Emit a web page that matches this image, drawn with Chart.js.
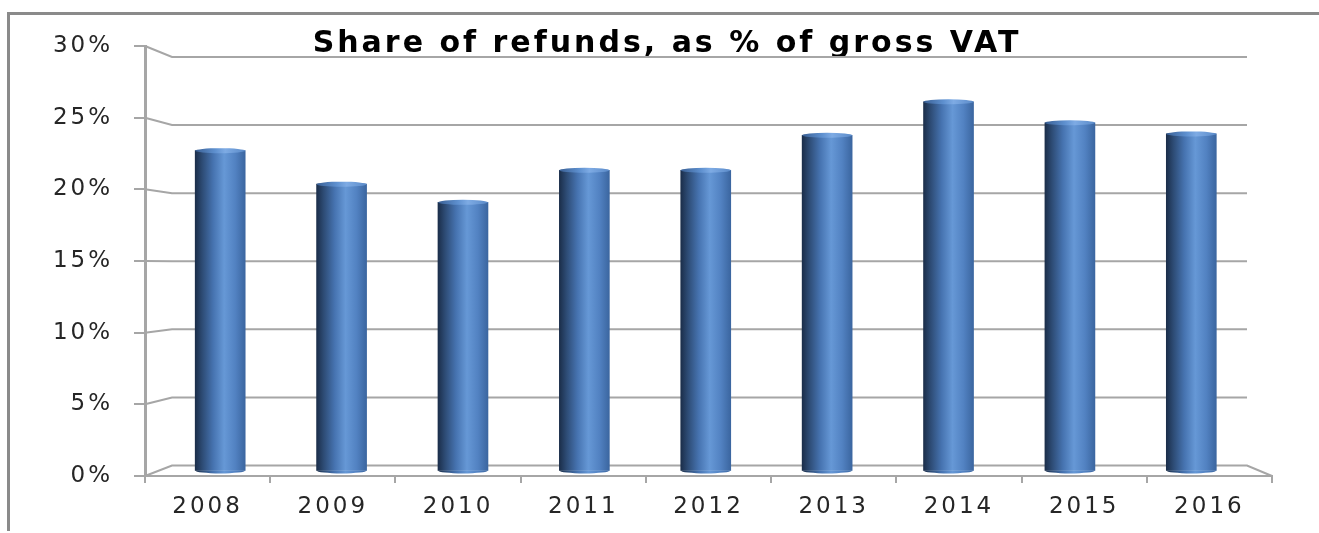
<!DOCTYPE html>
<html lang="en">
<head>
<meta charset="UTF-8" />
<title>Share of refunds, as % of gross VAT</title>
<script src="https://cdn.jsdelivr.net/npm/chart.js"></script>
<style>
  body { margin: 0; background: #fff; }
  #wrap { position: relative; width: 1319px; height: 533px; }
</style>
</head>
<body>
<div id="wrap"><canvas id="vatChart"></canvas></div>
<script>
  // data (percent of gross VAT)
  const years = ['2008', '2009', '2010', '2011', '2012', '2013', '2014', '2015', '2016'];
  const refundShare = [22.9, 20.5, 19.2, 21.5, 21.5, 24.0, 26.4, 24.9, 24.1];
  const yTicks = [0, 5, 10, 15, 20, 25, 30];

  // fake 3d: the bars sit in a plane a bit behind the front axes, the gridlines on the back wall
  const MID = { left: 14.5, right: 20, top: 5.5, bottom: 5.5 };
  const BACK = { left: 27, right: 25, top: 11, bottom: 10.5 };
  const PLOT_W = 1127, PLOT_H = 430;
  const BAR_W = 50;
  const GRID = '#a6a6a6';

  const bodyStops = [[0, '#1b2e4a'], [0.14, '#2d4b74'], [0.36, '#4673b0'], [0.58, '#6698d6'], [0.8, '#5282c2'], [1, '#3b66a0']];
  const capStops = [[0, '#3a6095'], [0.4, '#5e90cf'], [0.6, '#7eabe4'], [1, '#5b8bc9']];

  function insetRange(a, b, size, inLo, inHi) {
    const per = (size - inLo - inHi) / (b - a);
    return { min: a - inLo / per, max: b + inHi / per };
  }
  const xr = insetRange(-0.5, years.length - 0.5, PLOT_W, MID.left, MID.right);
  const yr = insetRange(yTicks[0], yTicks[yTicks.length - 1], PLOT_H, MID.bottom, MID.top);

  function cylinder(ctx, x, w, stops) {
    if (!isFinite(x) || !isFinite(w)) return '#4f81bd';
    const g = ctx.createLinearGradient(x - w / 2, 0, x + w / 2, 0);
    stops.forEach(s => g.addColorStop(s[0], s[1]));
    return g;
  }

  const frame = {
    id: 'frame',
    beforeDraw(chart) {
      const ctx = chart.ctx;
      ctx.save();
      ctx.strokeStyle = '#8a8a8a';
      ctx.lineWidth = 3;
      ctx.beginPath();
      ctx.moveTo(8.5, 531);
      ctx.lineTo(8.5, 13.5);
      ctx.lineTo(chart.width, 13.5);
      ctx.stroke();
      ctx.restore();
      // the original text is stretched wide
      ctx.letterSpacing = '3px';
    },
    afterDraw(chart) {
      chart.ctx.letterSpacing = '0px';
    }
  };

  const wall = {
    id: 'wall',
    beforeDatasetsDraw(chart) {
      const { ctx, chartArea: a, scales } = chart;
      const h = a.bottom - a.top;
      const bTop = a.top + BACK.top, bBot = a.bottom - BACK.bottom;
      const bL = a.left + BACK.left, bR = a.right - BACK.right;
      ctx.save();
      ctx.strokeStyle = GRID;
      ctx.lineWidth = 2;
      yTicks.forEach((v, i) => {
        const fy = scales.y.getPixelForValue(v);
        const by = bTop + (fy - a.top) / h * (bBot - bTop);
        ctx.beginPath();
        ctx.moveTo(a.left, fy);
        ctx.lineTo(bL, by);
        ctx.lineTo(bR, by);
        if (i === 0) ctx.lineTo(a.right, fy);
        ctx.stroke();
      });
      ctx.restore();
    }
  };

  const caps = {
    id: 'caps',
    afterDatasetsDraw(chart) {
      const ctx = chart.ctx;
      chart.getDatasetMeta(0).data.forEach(bar => {
        const { x, y, base, width } = bar.getProps(['x', 'y', 'base', 'width'], true);
        if (![x, y, base, width].every(isFinite)) return;
        ctx.save();
        ctx.fillStyle = cylinder(ctx, x, width, bodyStops);
        ctx.beginPath();
        ctx.ellipse(x, base, width / 2, 3, 0, 0, Math.PI);
        ctx.fill();
        ctx.fillStyle = cylinder(ctx, x, width, capStops);
        ctx.beginPath();
        ctx.ellipse(x, y, width / 2, 2.5, 0, 0, 2 * Math.PI);
        ctx.fill();
        ctx.restore();
      });
    }
  };

  Chart.defaults.font.family = "'DejaVu Sans', Verdana, sans-serif";

  new Chart(document.getElementById('vatChart'), {
    type: 'bar',
    data: {
      labels: years,
      datasets: [{
        label: 'Share of refunds',
        data: refundShare.map((v, i) => ({ x: i, y: v })),
        xAxisID: 'x2',
        yAxisID: 'y2',
        barThickness: BAR_W,
        borderWidth: 0,
        backgroundColor: c => {
          if (c.dataIndex === undefined || !c.chart.scales.x2) return '#4f81bd';
          const x = c.chart.scales.x2.getPixelForValue(c.dataIndex);
          return cylinder(c.chart.ctx, x, BAR_W, bodyStops);
        }
      }]
    },
    options: {
      responsive: true,
      maintainAspectRatio: false,
      animation: false,
      events: [],
      layout: { padding: { left: 15, right: 0, top: 0, bottom: 0 } },
      plugins: {
        legend: { display: false },
        tooltip: { enabled: false },
        title: {
          display: true,
          text: 'Share of refunds, as % of gross VAT',
          color: '#000',
          font: { size: 30, weight: 'bold' },
          padding: { top: 26, bottom: -16 }
        }
      },
      scales: {
        x: {
          type: 'category',
          labels: years,
          offset: true,
          grid: { offset: true, drawOnChartArea: false, tickLength: 7, color: GRID, lineWidth: 2 },
          border: { color: GRID, width: 2 },
          ticks: { color: '#262626', font: { size: 23 }, padding: 10, maxRotation: 0, autoSkip: false },
          afterFit: s => { s.height = 57; }
        },
        y: {
          type: 'linear',
          min: yTicks[0],
          max: yTicks[yTicks.length - 1],
          afterBuildTicks: s => { s.ticks = yTicks.map(v => ({ value: v })); },
          grid: { drawOnChartArea: false, tickLength: 11, color: GRID, lineWidth: 2 },
          border: { color: GRID, width: 3 },
          ticks: { color: '#262626', font: { size: 23 }, padding: 21, callback: v => v + '%' },
          afterFit: s => { s.width = 130; }
        },
        x2: { type: 'linear', display: false, offset: false, min: xr.min, max: xr.max, bounds: 'data' },
        // bar value axis: kept invisible on the right, it only holds the empty margin there
        y2: {
          type: 'linear', position: 'right', min: yr.min, max: yr.max, bounds: 'data',
          grid: { display: false }, border: { display: false }, ticks: { display: false },
          afterFit: s => { s.width = 47; }
        }
      }
    },
    plugins: [frame, wall, caps]
  });
</script>
</body>
</html>
